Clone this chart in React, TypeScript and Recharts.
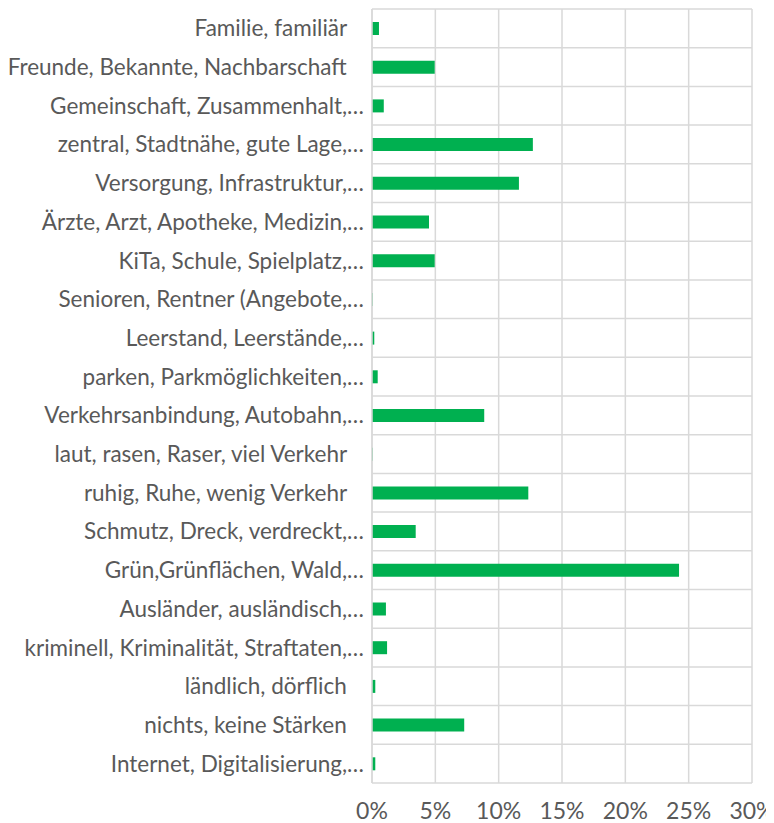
import React from 'react';
import { BarChart, Bar, XAxis, YAxis, CartesianGrid } from 'recharts';

const PAD = '\u00a0\u00a0\u00a0';

const categories = [
  'Familie, familiär' + PAD,
  'Freunde, Bekannte, Nachbarschaft' + PAD,
  'Gemeinschaft, Zusammenhalt,…',
  'zentral, Stadtnähe, gute Lage,…',
  'Versorgung, Infrastruktur,…',
  'Ärzte, Arzt, Apotheke, Medizin,…',
  'KiTa, Schule, Spielplatz,…',
  'Senioren, Rentner (Angebote,…',
  'Leerstand, Leerstände,…',
  'parken, Parkmöglichkeiten,…',
  'Verkehrsanbindung, Autobahn,…',
  'laut, rasen, Raser, viel Verkehr' + PAD,
  'ruhig, Ruhe, wenig Verkehr' + PAD,
  'Schmutz, Dreck, verdreckt,…',
  'Grün,Grünflächen, Wald,…',
  'Ausländer, ausländisch,…',
  'kriminell, Kriminalität, Straftaten,…',
  'ländlich, dörflich' + PAD,
  'nichts, keine Stärken' + PAD,
  'Internet, Digitalisierung,…',
];

const values = [
  0.55, 4.95, 0.93, 12.7, 11.6, 4.5, 4.95, 0.05, 0.18, 0.45,
  8.86, 0.05, 12.34, 3.45, 24.24, 1.1, 1.19, 0.26, 7.28, 0.26,
];

const xTicks = [0, 5, 10, 15, 20, 25, 30];

const data = categories.map((name, i) => ({ name, value: values[i] }));

const FONT = 'Lato, sans-serif';

export default function App() {
  return (
    <BarChart
      width={766}
      height={815}
      data={data}
      layout="vertical"
      margin={{ top: 1, right: 22, bottom: 0, left: 0 }}
      barCategoryGap="33%"
    >
      <CartesianGrid
        stroke="#d9d9d9"
        strokeWidth={1.5}
        horizontalCoordinatesGenerator={({ offset }: any) =>
          Array.from({ length: categories.length + 1 }, (_, i) => offset.top + (i * offset.height) / categories.length)
        }
      />
      <XAxis
        type="number"
        domain={[0, 30]}
        ticks={xTicks}
        tickFormatter={(v: number) => `${v}%`}
        axisLine={false}
        tickLine={false}
        height={40}
        tickMargin={14}
        tick={{ fill: '#595959', fontSize: 23, fontFamily: FONT }}
        interval={0}
      />
      <YAxis
        type="category"
        dataKey="name"
        width={364}
        axisLine={{ stroke: '#d9d9d9', strokeWidth: 1.5 }}
        tickLine={false}
        interval={0}
        tick={{ fill: '#595959', fontSize: 22.5, fontFamily: FONT }}
      />
      <Bar dataKey="value" fill="#00b050" barSize={13} isAnimationActive={false} />
    </BarChart>
  );
}
